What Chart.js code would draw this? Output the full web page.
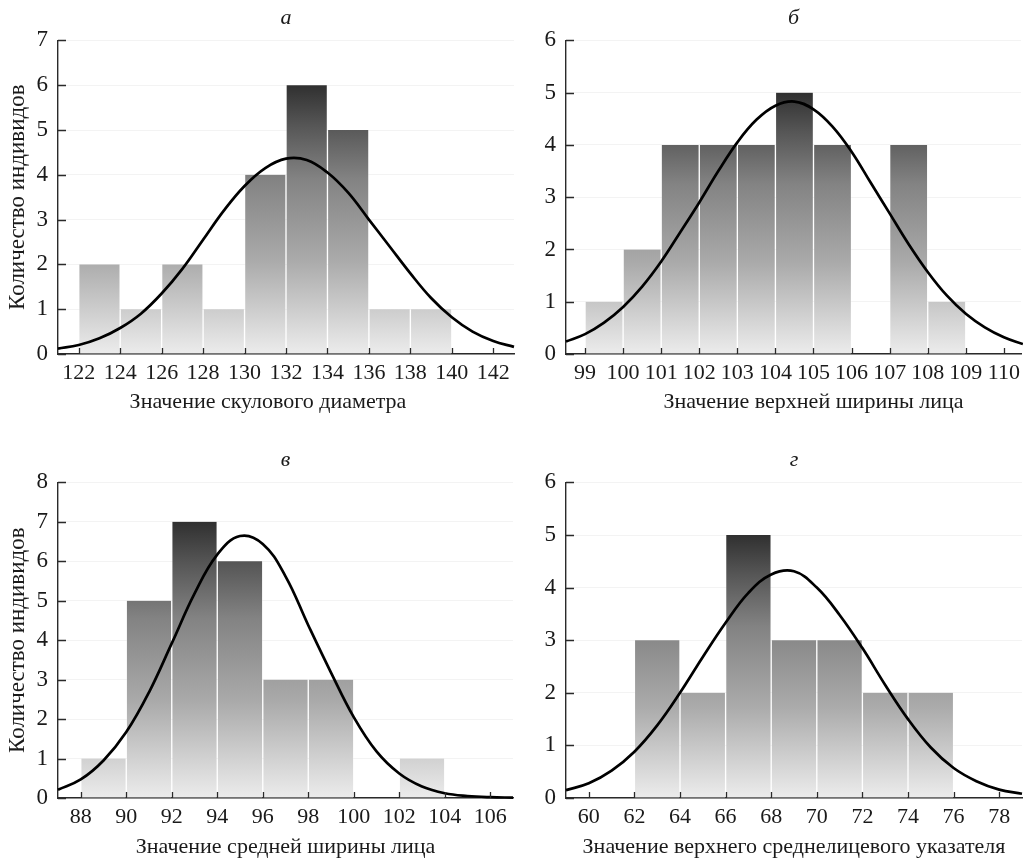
<!DOCTYPE html>
<html>
<head>
<meta charset="utf-8">
<script src="https://cdn.jsdelivr.net/npm/chart.js@4.4.1/dist/chart.umd.min.js"></script>
<style>
  html, body { margin: 0; padding: 0; background: #fff; }
  .panel { position: absolute; }
</style>
</head>
<body>
<div class="panel" style="left:0;top:0;width:516px;height:430px"><canvas id="cA"></canvas></div>
<div class="panel" style="left:516px;top:0;width:516px;height:430px"><canvas id="cB"></canvas></div>
<div class="panel" style="left:0;top:430px;width:516px;height:431px"><canvas id="cC"></canvas></div>
<div class="panel" style="left:516px;top:430px;width:516px;height:431px"><canvas id="cD"></canvas></div>
<script>
// ---------- DATA ----------
// Panel а — скуловой диаметр
const binCentersA = [123, 125, 127, 129, 131, 133, 135, 137, 139];
const countsA     = [2, 1, 2, 1, 4, 6, 5, 1, 1];
const curveXA = [121,122,123,124,125,126,127,128,129,130,131,132,133,134,135,136,137,138,139,140,141,142,143];
const curveYA = [0.12,0.2,0.35,0.58,0.9,1.35,1.9,2.55,3.2,3.75,4.15,4.36,4.33,4.05,3.6,3.0,2.4,1.8,1.25,0.82,0.5,0.29,0.16];
const xTicksA = [122,124,126,128,130,132,134,136,138,140,142];

// Panel б — верхняя ширина лица
const binCentersB = [99.5, 100.5, 101.5, 102.5, 103.5, 104.5, 105.5, 106.5, 107.5, 108.5];
const countsB     = [1, 2, 4, 4, 4, 5, 4, 0, 4, 1];
const curveXB = [98.5,99,99.5,100,100.5,101,101.5,102,102.5,103,103.5,104,104.5,105,105.5,106,106.5,107,107.5,108,108.5,109,109.5,110,110.5];
const curveYB = [0.24,0.38,0.6,0.9,1.29,1.77,2.33,2.9,3.5,4.05,4.48,4.75,4.83,4.68,4.35,3.87,3.28,2.69,2.1,1.57,1.12,0.77,0.51,0.32,0.19];
const xTicksB = [99,100,101,102,103,104,105,106,107,108,109,110];

// Panel в — средняя ширина лица
const binCentersC = [89, 91, 93, 95, 97, 99, 101, 103];
const countsC     = [1, 5, 7, 6, 3, 3, 0, 1];
const curveXC = [87,88,89,90,91,92,93,94,95,96,97,98,99,100,101,102,103,104,105,106,107];
const curveYC = [0.21,0.47,0.95,1.67,2.68,3.92,5.18,6.17,6.64,6.44,5.62,4.38,3.18,2.05,1.18,0.62,0.29,0.12,0.05,0.02,0.01];
const xTicksC = [88,90,92,94,96,98,100,102,104,106];

// Panel г — верхний среднелицевой указатель
const binCentersD = [63, 65, 67, 69, 71, 73, 75];
const countsD     = [3, 2, 5, 3, 3, 2, 2];
const curveXD = [59,60,61,62,63,64,65,66,67,68,69,70,71,72,73,74,75,76,77,78,79];
const curveYD = [0.15,0.28,0.52,0.88,1.38,2.0,2.68,3.33,3.9,4.25,4.31,4.0,3.48,2.85,2.15,1.5,0.96,0.57,0.32,0.16,0.08];
const xTicksD = [60,62,64,66,68,70,72,74,76,78];

const panelTitles = ['а', 'б', 'в', 'г'];
const xTitles = ['Значение скулового диаметра', 'Значение верхней ширины лица',
                 'Значение средней ширины лица', 'Значение верхнего среднелицевого указателя'];
const yTitle = 'Количество индивидов';

// ---------- RENDER ----------
const FONT = '"Liberation Serif", "Times New Roman", serif';
const INK = '#1a1a1a';

const inwardTicks = {
  id: 'inwardTicks',
  afterDatasetsDraw(chart) {
    const { ctx, scales: { x, y }, chartArea } = chart;
    ctx.save();
    ctx.strokeStyle = '#2a2a2a';
    ctx.lineWidth = 1.3;
    ctx.beginPath();
    y.ticks.forEach((t, i) => {
      const py = Math.round(y.getPixelForTick(i)) + 0.5;
      ctx.moveTo(chartArea.left, py);
      ctx.lineTo(chartArea.left + 8, py);
    });
    x.ticks.forEach((t, i) => {
      const px = Math.round(x.getPixelForTick(i)) + 0.5;
      ctx.moveTo(px, chartArea.bottom);
      ctx.lineTo(px, chartArea.bottom - 6);
    });
    ctx.stroke();
    ctx.restore();
  }
};

const xTitlePlugin = {
  id: 'xTitlePlugin',
  afterDraw(chart, args, opts) {
    const { ctx, chartArea } = chart;
    ctx.save();
    ctx.font = '22px ' + FONT;
    ctx.fillStyle = INK;
    ctx.textAlign = 'center';
    ctx.textBaseline = 'middle';
    ctx.fillText(opts.text, (chartArea.left + chartArea.right) / 2 + opts.dx, chartArea.bottom + opts.dy);
    ctx.restore();
  }
};

function makeGradient(chart, maxCount) {
  const { ctx, chartArea, scales } = chart;
  if (!chartArea) return '#999';
  const y0 = scales.y.getPixelForValue(0);
  const y1 = scales.y.getPixelForValue(maxCount);
  const g = ctx.createLinearGradient(0, y0, 0, y1);
  g.addColorStop(0, '#ececec');
  g.addColorStop(0.35, '#aaaaaa');
  g.addColorStop(0.65, '#838383');
  g.addColorStop(0.85, '#565656');
  g.addColorStop(1, '#303030');
  return g;
}

function makePanel(id, o) {
  const maxCount = Math.max(...o.counts);
  new Chart(document.getElementById(id), {
    type: 'bar',
    data: {
      datasets: [
        {
          type: 'line',
          order: 0,
          data: o.curveX.map((v, i) => ({ x: v, y: o.curveY[i] })),
          borderColor: '#000',
          borderWidth: 2.7,
          pointRadius: 0,
          fill: false,
          tension: 0.4,
          clip: 2
        },
        {
          type: 'bar',
          order: 1,
          data: o.centers.map((v, i) => ({ x: v, y: o.counts[i] })),
          backgroundColor: (c) => makeGradient(c.chart, maxCount),
          borderColor: 'rgba(255,255,255,0.22)',
          borderWidth: { left: 1, right: 1, top: 0, bottom: 0 },
          borderSkipped: false,
          barPercentage: 1,
          categoryPercentage: 1
        }
      ]
    },
    options: {
      responsive: true,
      maintainAspectRatio: false,
      animation: false,
      events: [],
      layout: { padding: { left: 0, right: o.padRight, top: 0, bottom: 0 } },
      plugins: {
        legend: { display: false },
        tooltip: { enabled: false },
        title: {
          display: true,
          text: o.title,
          fullSize: false,
          color: INK,
          font: { family: FONT, size: 22, style: 'italic', weight: 'normal', lineHeight: 1.2 },
          padding: { top: o.titleTop, bottom: 9 }
        },
        xTitlePlugin: { text: o.xTitle, dx: o.xTitleDx, dy: o.xTitleDy }
      },
      scales: {
        x: {
          type: 'linear',
          min: o.xMin,
          max: o.xMax,
          offset: false,
          afterBuildTicks: (s) => { s.ticks = o.xTicks.map(v => ({ value: v })); },
          afterFit: (s) => { s.height = o.xHeight; },
          ticks: {
            autoSkip: false, maxRotation: 0, minRotation: 0,
            padding: 6, color: INK,
            font: { family: FONT, size: 22 }
          },
          grid: { display: false, drawTicks: false },
          border: { display: true, color: '#2a2a2a', width: 1.4 }
        },
        y: {
          min: 0,
          max: o.yMax,
          afterFit: (s) => { s.width = o.yWidth; },
          ticks: {
            stepSize: 1, padding: 10, color: INK,
            font: { family: FONT, size: 23 }
          },
          grid: { color: '#f3f3f3', drawTicks: false, lineWidth: 1 },
          border: { display: true, color: '#2a2a2a', width: 1.4 },
          title: {
            display: o.showYTitle,
            text: yTitle,
            color: INK,
            font: { family: FONT, size: 23, lineHeight: 1.2 },
            padding: { top: 4, bottom: 0 }
          }
        }
      }
    },
    plugins: [inwardTicks, xTitlePlugin]
  });
}

makePanel('cA', {
  title: panelTitles[0], xTitle: xTitles[0], centers: binCentersA, counts: countsA,
  curveX: curveXA, curveY: curveYA, xTicks: xTicksA, xMin: 121, xMax: 143, yMax: 7,
  yWidth: 58, padRight: 2, titleTop: 5, xHeight: 76, xTitleDx: -18, xTitleDy: 48, showYTitle: true
});
makePanel('cB', {
  title: panelTitles[1], xTitle: xTitles[1], centers: binCentersB, counts: countsB,
  curveX: curveXB, curveY: curveYB, xTicks: xTicksB, xMin: 98.5, xMax: 110.45, yMax: 6,
  yWidth: 50, padRight: 11, titleTop: 5, xHeight: 76, xTitleDx: 20, xTitleDy: 48, showYTitle: false
});
makePanel('cC', {
  title: panelTitles[2], xTitle: xTitles[2], centers: binCentersC, counts: countsC,
  curveX: curveXC, curveY: curveYC, xTicks: xTicksC, xMin: 87, xMax: 107, yMax: 8,
  yWidth: 58, padRight: 3, titleTop: 17, xHeight: 63, xTitleDx: 0, xTitleDy: 49, showYTitle: true
});
makePanel('cD', {
  title: panelTitles[3], xTitle: xTitles[3], centers: binCentersD, counts: countsD,
  curveX: curveXD, curveY: curveYD, xTicks: xTicksD, xMin: 59, xMax: 79, yMax: 6,
  yWidth: 50, padRight: 10, titleTop: 17, xHeight: 63, xTitleDx: 0, xTitleDy: 49, showYTitle: false
});
</script>
</body>
</html>
